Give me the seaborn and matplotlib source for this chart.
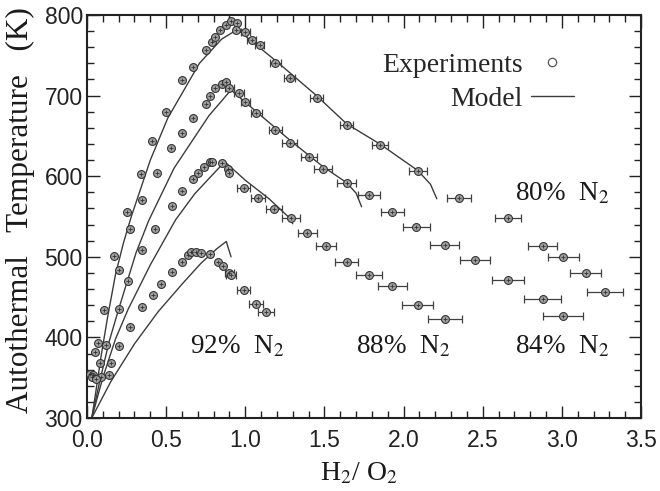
import numpy as np
import pandas as pd
import matplotlib
matplotlib.use("Agg")
import matplotlib.pyplot as plt
from matplotlib.lines import Line2D
from matplotlib.ticker import MultipleLocator
import seaborn as sns

# ---------------- experimental data (H2/O2 ratio, autothermal T in K, x-error) ----------------
x80 = [0.02, 0.05, 0.07, 0.11, 0.17, 0.25, 0.34, 0.41, 0.50, 0.60, 0.67, 0.75, 0.79, 0.81, 0.84, 0.88, 0.91, 0.95, 0.94,
       1.00, 1.04, 1.09, 1.19, 1.28, 1.45, 1.64, 1.85, 2.09, 2.35, 2.66, 2.88, 3.01, 3.15, 3.27]
T80 = [355, 382, 393, 434, 501, 556, 603, 644, 680, 719, 736, 757, 767, 773, 781, 788, 792, 790, 781,
       779, 769, 763, 740, 722, 697, 664, 639, 606, 573, 548, 513, 500, 480, 456]
e80 = [0, 0, 0, 0, 0, 0, 0, 0, 0, 0, 0, 0, 0, 0, 0, 0, 0, 0, 0,
       0.03, 0.03, 0.03, 0.035, 0.035, 0.04, 0.042, 0.05, 0.057, 0.073, 0.084, 0.092, 0.098, 0.10, 0.114]

x84 = [0.04, 0.08, 0.12, 0.20, 0.27, 0.35, 0.44, 0.53, 0.60, 0.67, 0.75, 0.78, 0.81, 0.85, 0.88,
       0.90, 0.96, 1.00, 1.07, 1.19, 1.28, 1.40, 1.49, 1.64, 1.78, 1.93, 2.08, 2.26, 2.45, 2.66, 2.88, 3.01]
T84 = [353, 368, 391, 484, 535, 571, 604, 635, 654, 672, 690, 700, 709, 715, 717,
       709, 703, 692, 678, 657, 641, 624, 609, 591, 577, 556, 537, 515, 496, 471, 448, 426]
e84 = [0, 0, 0, 0, 0, 0, 0, 0, 0, 0, 0, 0, 0, 0, 0,
       0.03, 0.03, 0.03, 0.035, 0.04, 0.045, 0.05, 0.055, 0.06, 0.07, 0.075, 0.085, 0.09, 0.095, 0.103, 0.117, 0.126]

x88 = [0.09, 0.15, 0.20, 0.20, 0.26, 0.35, 0.43, 0.54, 0.60, 0.67, 0.70, 0.74, 0.78, 0.79, 0.85, 0.89, 0.90,
       0.99, 1.08, 1.18, 1.29, 1.39, 1.51, 1.64, 1.78, 1.93, 2.09, 2.26]
T88 = [351, 368, 389, 435, 470, 508, 535, 563, 582, 596, 604, 612, 618, 618, 616, 609, 604,
       585, 573, 559, 548, 529, 513, 493, 477, 464, 440, 423]
e88 = [0, 0, 0, 0, 0, 0, 0, 0, 0, 0, 0, 0, 0, 0, 0, 0, 0,
       0.04, 0.045, 0.05, 0.055, 0.06, 0.065, 0.074, 0.081, 0.09, 0.099, 0.107]

x92 = [0.03, 0.06, 0.14, 0.27, 0.35, 0.42, 0.47, 0.54, 0.60, 0.64, 0.66, 0.69, 0.72, 0.78, 0.83, 0.86,
       0.90, 0.91, 0.99, 1.07, 1.13]
T92 = [351, 349, 353, 413, 438, 452, 466, 481, 494, 502, 506, 506, 505, 503, 494, 488,
       480, 477, 459, 442, 432]
e92 = [0, 0, 0, 0, 0, 0, 0, 0, 0, 0, 0, 0, 0, 0, 0, 0,
       0.03, 0.03, 0.04, 0.045, 0.05]

# ---------------- model curves ----------------
m80x = [0.03, 0.05, 0.09, 0.13, 0.18, 0.23, 0.28, 0.40, 0.51, 0.71, 0.85, 0.95, 1.20, 1.45, 1.64, 1.85, 2.09, 2.17, 2.21]
m80T = [300, 325, 378, 425, 478, 517, 550, 620, 672, 740, 770, 782, 742, 700, 665, 640, 607, 590, 572]

m84x = [0.03, 0.08, 0.14, 0.20, 0.31, 0.39, 0.55, 0.77, 0.91, 1.07, 1.28, 1.49, 1.64, 1.70, 1.735]
m84T = [300, 345, 395, 435, 505, 545, 610, 675, 707, 680, 645, 612, 592, 579, 562]

m88x = [0.03, 0.10, 0.18, 0.26, 0.40, 0.56, 0.68, 0.87, 1.00, 1.15, 1.27, 1.30]
m88T = [300, 350, 398, 435, 490, 546, 578, 618, 595, 572, 550, 541]

m92x = [0.03, 0.15, 0.30, 0.45, 0.60, 0.72, 0.82, 0.88, 0.91]
m92T = [300, 345, 392, 432, 466, 492, 510, 519, 500]

labels = ["80%  N$_2$", "84%  N$_2$", "88%  N$_2$", "92%  N$_2$"]
label_x = [3.0, 3.0, 2.0, 0.95]
label_T = [578, 388, 388, 388]

# ---------------- style ----------------
sns.set_theme(style="ticks")
plt.rcParams['font.family'] = ['Liberation Sans', 'DejaVu Sans']
plt.rcParams['mathtext.fontset'] = 'stix'
SERIF = ['Liberation Serif', 'DejaVu Serif']

fig = plt.figure(figsize=(6.6, 4.91), dpi=100)
ax = fig.add_axes([87/660, 1 - 418/491, (641 - 87)/660, (418 - 15)/491])

line_col = '#3c3c3c'
for mx, mT in [(m80x, m80T), (m84x, m84T), (m88x, m88T), (m92x, m92T)]:
    df = pd.DataFrame({'x': mx, 'T': mT})
    sns.lineplot(data=df, x='x', y='T', sort=False, estimator=None, color=line_col,
                 linewidth=1.0, ax=ax, legend=False)

for xs, Ts, es in [(x80, T80, e80), (x84, T84, e84), (x88, T88, e88), (x92, T92, e92)]:
    xs = np.array(xs); Ts = np.array(Ts); es = np.array(es)
    m = es > 0
    ax.errorbar(xs[m], Ts[m], xerr=es[m], fmt='none', ecolor='#404040', elinewidth=0.9,
                capsize=3.0, capthick=0.9, zorder=3)
    df = pd.DataFrame({'x': xs, 'T': Ts})
    sns.scatterplot(data=df, x='x', y='T', marker='o', s=32, color='#a0a0a0',
                    edgecolor='#333333', linewidth=0.8, ax=ax, zorder=4, legend=False)
    sns.scatterplot(data=df, x='x', y='T', marker='+', s=10, color='#333333',
                    linewidth=0.6, ax=ax, zorder=5, legend=False)

for lab, lx, lt in zip(labels, label_x, label_T):
    ax.text(lx, lt, lab, ha='center', va='center', fontsize=19.5, family=SERIF, color='#1a1a1a')

ax.set_xlim(0, 3.5)
ax.set_ylim(300, 800)
ax.xaxis.set_major_locator(MultipleLocator(0.5))
ax.xaxis.set_minor_locator(MultipleLocator(0.1))
ax.yaxis.set_major_locator(MultipleLocator(100))
ax.yaxis.set_minor_locator(MultipleLocator(20))
ax.xaxis.set_major_formatter(matplotlib.ticker.FormatStrFormatter('%.1f'))

ax.tick_params(which='both', direction='in', top=True, right=True, color='#222222', width=1.0)
ax.tick_params(which='major', length=9)
ax.tick_params(which='minor', length=5)
ax.tick_params(axis='x', which='major', labelsize=16.5, pad=8, labelcolor='#222222')
ax.tick_params(axis='y', which='major', labelsize=16.5, pad=3, labelcolor='#222222')
for lbl in ax.get_yticklabels():
    lbl.set_va('center_baseline')
for sp in ax.spines.values():
    sp.set_linewidth(1.5)
    sp.set_color('#222222')

ax.set_xlabel("H$_2$/ O$_2$", fontsize=20, family=SERIF, color='#1a1a1a')
ax.set_ylabel("Autothermal   Temperature   (K)", fontsize=22.5, family=SERIF, color='#1a1a1a')
ax.xaxis.set_label_coords(0.49, -0.105)
ax.yaxis.set_label_coords(-0.094, 0.515)

handles = [Line2D([], [], marker='o', ls='none', mfc='none', mec='#555555', ms=6, mew=0.9),
           Line2D([], [], color=line_col, lw=1.0)]
leg = ax.legend(handles, ['Experiments', 'Model'], loc='upper right', bbox_to_anchor=(0.899, 0.935),
                frameon=False, markerfirst=False, handlelength=1.55, handletextpad=0.3,
                labelspacing=0.3, borderaxespad=0, prop={'family': SERIF, 'size': 20})
for t in leg.get_texts():
    t.set_ha('right')

fig.savefig('out.png', dpi=100)
